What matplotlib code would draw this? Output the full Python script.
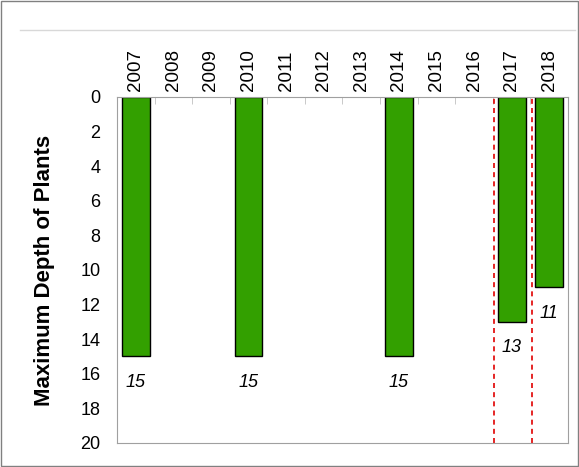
import matplotlib.pyplot as plt
import numpy as np

plt.rcParams['font.family'] = ['Liberation Sans', 'DejaVu Sans']

years = ['2007', '2008', '2009', '2010', '2011', '2012', '2013', '2014', '2015', '2016', '2017', '2018']
depths = [15, 0, 0, 15, 0, 0, 0, 15, 0, 0, 13, 11]
red_lines = [9.53, 10.55]

fig = plt.figure(figsize=(5.79, 4.67), dpi=100)
ax = fig.add_axes([0.202, 0.0514, 0.779, 0.741])

x = np.arange(len(years))
for xi, d in zip(x, depths):
    if d > 0:
        ax.bar(xi, d, width=0.74, color='#33a000', edgecolor='black', linewidth=1)
        ax.text(xi, d + 1.5, str(d), ha='center', va='center', fontsize=13, style='italic')

for xr in red_lines:
    ax.axvline(xr, color='#e00000', linestyle='--', linewidth=1.2, dashes=(3, 2.5))

ax.set_xlim(-0.5, 11.5)
ax.set_ylim(20, 0)
ax.set_yticks(range(0, 21, 2))
ax.tick_params(axis='y', length=0, labelsize=13, pad=12)
ax.xaxis.tick_top()
ax.set_xticks(x)
ax.set_xticklabels(years, rotation=90, fontsize=13.5)
ax.set_xticks(np.arange(-0.5, 12, 1), minor=True)
ax.tick_params(axis='x', which='major', length=0, pad=4)
ax.tick_params(axis='x', which='minor', length=5, color='#c0c0c0', direction='in')
for s in ax.spines.values():
    s.set_color('#a0a0a0')
ax.set_ylabel('Maximum Depth of Plants', fontsize=16, fontweight='bold', labelpad=18)

fig.add_artist(plt.Line2D([0.035, 0.993], [0.936, 0.936], color='#d8d8d8', linewidth=1))
fig.add_artist(plt.Rectangle((0.002, 0.002), 0.996, 0.996, fill=False, edgecolor='#808080', linewidth=1))

fig.savefig('out.png')
